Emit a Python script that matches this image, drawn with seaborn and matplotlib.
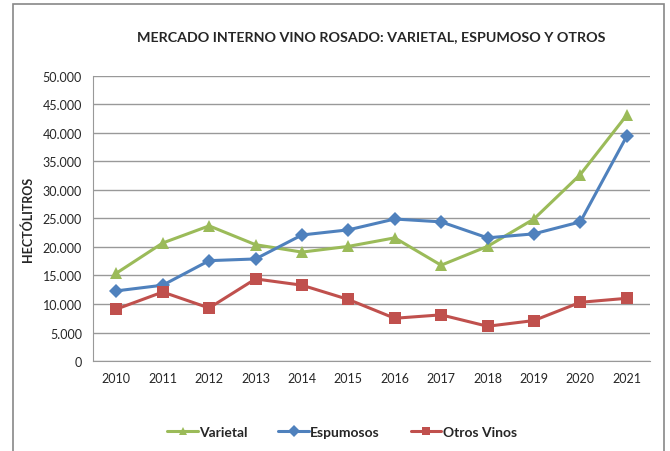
import numpy as np
import pandas as pd
import matplotlib.pyplot as plt
import matplotlib.ticker as mticker
from matplotlib.patches import Rectangle
import seaborn as sns

# datos (hectolitros)
years = list(range(2010, 2022))
varietal = [15400, 20700, 23700, 20400, 19100, 20100, 21600, 16800, 20100, 24900, 32700, 43100]
espumosos = [12300, 13300, 17600, 17900, 22100, 23000, 24900, 24400, 21600, 22300, 24400, 39400]
otros = [9100, 12100, 9300, 14400, 13300, 10800, 7500, 8100, 6100, 7100, 10300, 11000]
series = ['Varietal', 'Espumosos', 'Otros Vinos']

df = pd.DataFrame({'year': years * 3,
                   'valor': varietal + espumosos + otros,
                   'serie': [s for s in series for _ in years]})

sns.set_style('white')
plt.rcParams['font.family'] = ['Lato', 'DejaVu Sans']

colores = {'Varietal': '#9BBB59', 'Espumosos': '#4F81BD', 'Otros Vinos': '#C0504D'}
marcas = {'Varietal': '^', 'Espumosos': 'D', 'Otros Vinos': 's'}

fig = plt.figure(figsize=(6.7, 4.52), dpi=100)
ax = fig.add_axes([0.139, 0.199, 0.831, 0.631])

sns.lineplot(data=df, x='year', y='valor', hue='serie', style='serie',
             palette=colores, markers=marcas, dashes=False, linewidth=2.2,
             markersize=8, markeredgewidth=0, ax=ax)

# tamaño de cada marcador
for line, s in zip(ax.lines, series):
    if s == 'Espumosos':
        line.set_markersize(7)
    else:
        line.set_markersize(9)

ax.set_xlim(2009.5, 2021.5)
ax.set_ylim(0, 50000)
ax.set_xticks(years)
ax.set_yticks(np.arange(0, 50001, 5000))
ax.yaxis.set_major_formatter(mticker.FuncFormatter(lambda v, p: f'{int(v):,}'.replace(',', '.')))
ax.tick_params(labelsize=9, length=0, pad=8)
ax.grid(axis='y', color='#999999', linewidth=1)
ax.set_axisbelow(True)
for side in ['top', 'right']:
    ax.spines[side].set_visible(False)
for side in ['left', 'bottom']:
    ax.spines[side].set_color('#999999')

ax.set_xlabel('')
ax.set_ylabel('HECTÓLITROS', fontsize=9, fontweight='bold', labelpad=6)
ax.set_title('MERCADO INTERNO VINO ROSADO: VARIETAL, ESPUMOSO Y OTROS',
             fontsize=10.3, fontweight='bold', pad=26)

handles, labels = ax.get_legend_handles_labels()
leg = ax.legend(handles, labels, loc='center', bbox_to_anchor=(0.447, -0.25), ncol=3,
                frameon=False, columnspacing=2.2, handlelength=2.2,
                handletextpad=0.1, prop={'weight': 'bold', 'size': 10})
for h in leg.legend_handles:
    h.set_markersize(6)

# borde del grafico
fig.patches.append(Rectangle((13 / 670, -0.05), 651 / 670, 1.04, transform=fig.transFigure,
                             fill=False, edgecolor='#888888', linewidth=1.2))

fig.savefig('out.png', dpi=100)
